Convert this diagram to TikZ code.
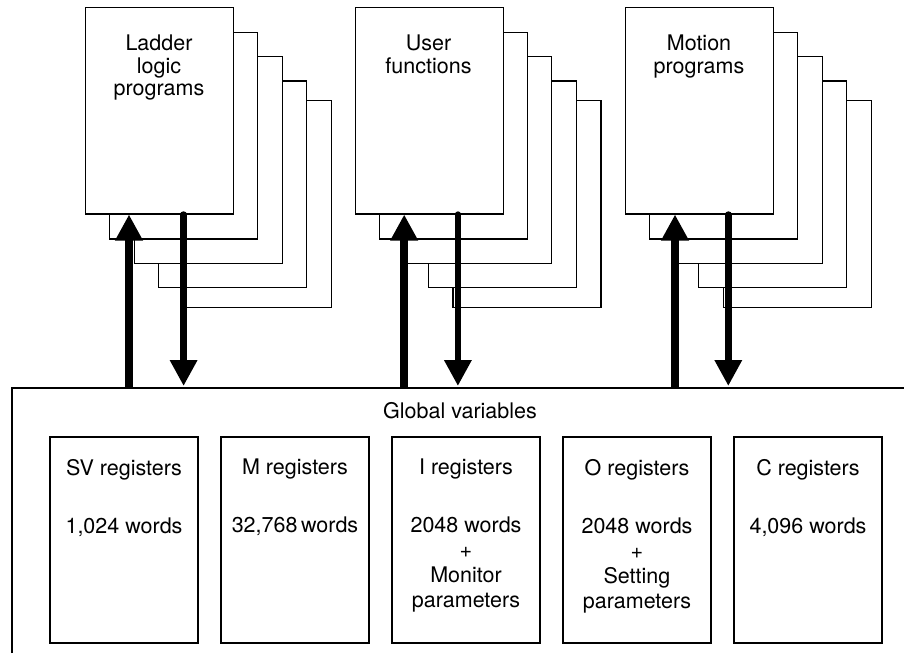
\documentclass[tikz,border=0pt]{standalone}
\usepackage{fontspec}
\setmainfont{TeX Gyre Heros}
\usetikzlibrary{arrows.meta}

\begin{document}
\begin{tikzpicture}[
  x=0.5pt, y=-0.5pt,
  >={Triangle[width=13pt,length=13pt]},
  sheet/.style={draw, fill=white, line width=0.6pt},
  page/.style={sheet, minimum width=74pt, minimum height=103.3pt, inner sep=0pt, anchor=north west},
  frame/.style={draw, line width=0.6pt},
  regbox/.style={draw, line width=0.6pt, minimum width=74pt, minimum height=103pt, inner sep=0pt},
  toplab/.style={font=\fontsize{10.75}{11.3}\selectfont, align=center, inner sep=0pt, anchor=north},
  reglab/.style={font=\fontsize{10.75}{12.5}\selectfont, align=center, inner sep=0pt, anchor=north},
  glab/.style={font=\fontsize{10.75}{12.5}\selectfont, inner sep=0pt, anchor=base},
  upflow/.style={->, line width=3.8pt},
  downflow/.style={->, line width=3.2pt, line cap=round}
]
\useasboundingbox (0,0) rectangle (904,653);

% global variables area (runs off the page)
\coordinate (gv-sw) at (12,653);
\coordinate (gv-nw) at (12,388);
\coordinate (gv-ne) at (904,388);
\draw[frame] (gv-sw) -- (gv-nw) -- (gv-ne);
\node[glab] (glob) at (460,418) {Global variables};

% register blocks
\foreach \nm/\cx/\txt in {
  sv/124/{SV registers\\[16.5pt]1,024 words},
  m/295/{M registers\\[16.5pt]32,768\,words},
  i/466/{I registers\\[16.5pt]2048 words\\+\\Monitor\\parameters},
  o/637/{O registers\\[16.5pt]2048 words\\+\\Setting\\parameters},
  c/808/{C registers\\[16.5pt]4,096 words}}{
  \node[regbox] (\nm) at (\cx,540) {};
  \node[reglab] (\nm-lab) at (\cx,458.6) {\txt};
}

% program stacks
\foreach \nm/\cx/\ux/\dx/\txt in {
  ladder/85/44/98.6/{Ladder\\logic\\programs},
  user/354.5/49.7/103.4/{User\\functions},
  motion/625/50/103.3/{Motion\\programs}}{
  \foreach \k/\dy in {4/94,3/74.3,2/50,1/25.6}
    \draw[sheet] (\cx+\k*24.6,6.7+\dy) rectangle ++(148,206.6);
  \node[page] (\nm) at (\cx,6.7) {};
  \node[toplab] (\nm-lab) at (\cx+74,34.6) {\txt};
  \coordinate (\nm-up) at (\cx+\ux,388);
  \coordinate (\nm-dn) at (\cx+\dx,386);
  \draw[upflow] (\nm-up) -- (\nm-up |- \nm.south);
  \draw[downflow] (\nm-dn |- \nm.south) -- (\nm-dn);
}
\end{tikzpicture}
\end{document}
